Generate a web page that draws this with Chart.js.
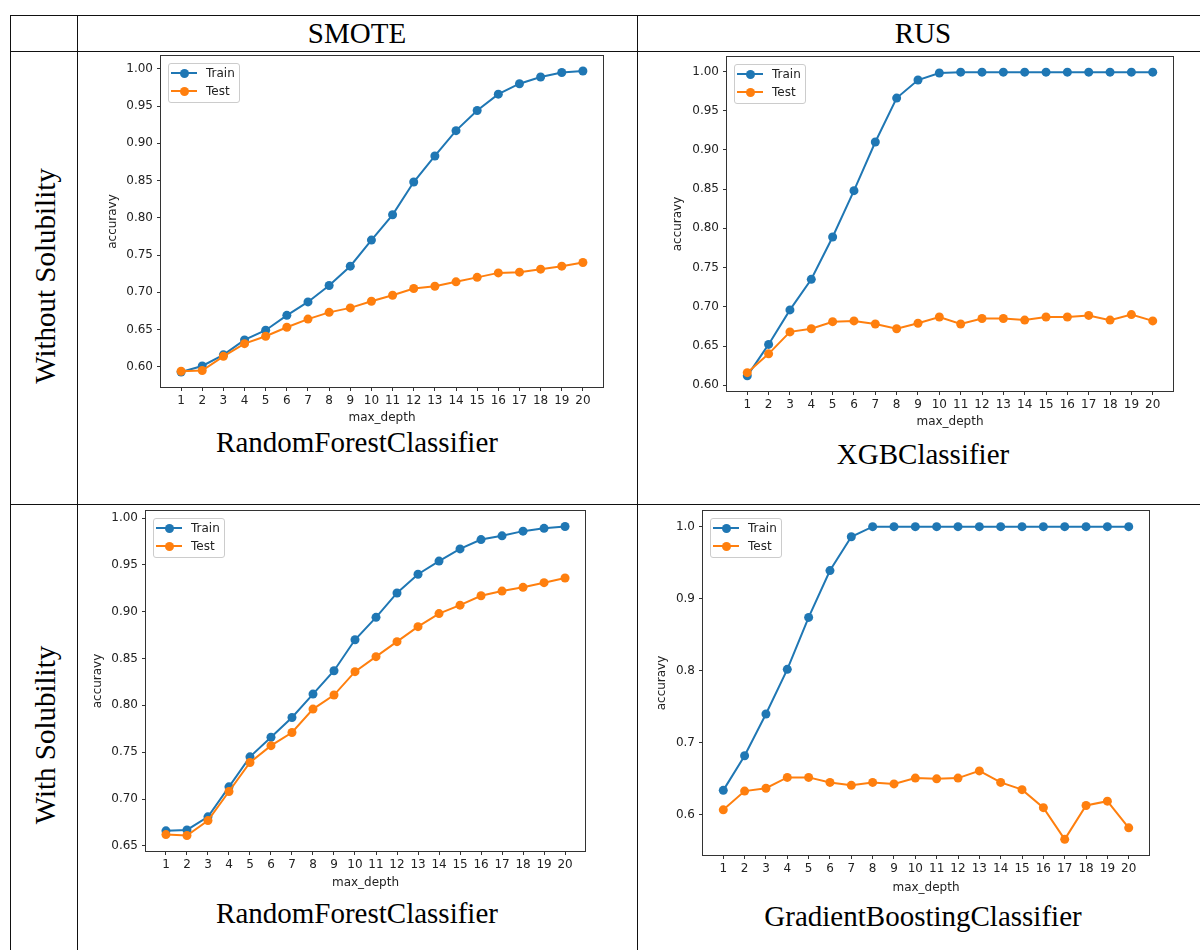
<!DOCTYPE html>
<html>
<head>
<meta charset="utf-8">
<script src="https://cdn.jsdelivr.net/npm/chart.js@4.4.1/dist/chart.umd.min.js"></script>
<style>
  body { margin: 0; width: 1200px; height: 950px; overflow: hidden; position: relative; background: #fff; font-family: "Liberation Serif", "Times New Roman", serif; }
  .hl, .vl { position: absolute; background: #111; }
  .hl { height: 1px; left: 10px; width: 1200px; }
  .vl { width: 1px; top: 15px; height: 940px; }
  .txt { position: absolute; font-size: 29px; line-height: 29px; white-space: nowrap; color: #000; transform: translateX(-50%); }
  .side { position: absolute; font-size: 29px; line-height: 29px; white-space: nowrap; color: #000; transform: translate(-50%, -50%) rotate(-90deg); }
  .panel { position: absolute; }
  .panel canvas { display: block; }
  .legend { position: absolute; border: 1px solid #ccc; border-radius: 3px; background: rgba(255,255,255,0.85); padding: 0 4px 2px 2px; font: 12px "DejaVu Sans", sans-serif; color: #222; }
  .legend .item { height: 18px; line-height: 18px; display: flex; align-items: center; white-space: nowrap; }
  .legend .icon { position: relative; width: 26px; height: 2px; background: var(--c); margin-right: 9px; }
  .legend .icon::after { content: ""; position: absolute; left: 8.5px; top: -3.5px; width: 9px; height: 9px; border-radius: 50%; background: var(--c); }
</style>
</head>
<body>
<div class="hl" style="top:15px"></div>
<div class="hl" style="top:51px"></div>
<div class="hl" style="top:504px"></div>
<div class="vl" style="left:10px"></div>
<div class="vl" style="left:77px"></div>
<div class="vl" style="left:637px"></div>

<div class="txt" style="left:357px;top:19px">SMOTE</div>
<div class="txt" style="left:923px;top:19px">RUS</div>
<div class="side" style="left:45px;top:276px">Without Solubility</div>
<div class="side" style="left:45px;top:735px">With Solubility</div>

<div class="panel" id="p1"><canvas></canvas><div class="legend"></div></div>
<div class="panel" id="p2"><canvas></canvas><div class="legend"></div></div>
<div class="panel" id="p3"><canvas></canvas><div class="legend"></div></div>
<div class="panel" id="p4"><canvas></canvas><div class="legend"></div></div>

<div class="txt" style="left:357px;top:428px">RandomForestClassifier</div>
<div class="txt" style="left:923px;top:440px">XGBClassifier</div>
<div class="txt" style="left:357px;top:899px">RandomForestClassifier</div>
<div class="txt" style="left:923px;top:902px">GradientBoostingClassifier</div>

<script>
const depth = [1, 2, 3, 4, 5, 6, 7, 8, 9, 10, 11, 12, 13, 14, 15, 16, 17, 18, 19, 20];

// SMOTE, without solubility (RandomForest)
const rfSmoteTrain = [0.593, 0.601, 0.616, 0.636, 0.649, 0.669, 0.687, 0.709, 0.735, 0.770, 0.804, 0.848, 0.883, 0.917, 0.944, 0.966, 0.980, 0.989, 0.995, 0.997];
const rfSmoteTest = [0.594, 0.595, 0.614, 0.631, 0.641, 0.653, 0.664, 0.673, 0.679, 0.688, 0.696, 0.705, 0.708, 0.714, 0.720, 0.726, 0.727, 0.731, 0.735, 0.740];

// RUS, without solubility (XGB)
const xgbRusTrain = [0.612, 0.652, 0.696, 0.735, 0.789, 0.848, 0.910, 0.966, 0.989, 0.998, 0.999, 0.999, 0.999, 0.999, 0.999, 0.999, 0.999, 0.999, 0.999, 0.999];
const xgbRusTest = [0.616, 0.640, 0.668, 0.672, 0.681, 0.682, 0.678, 0.672, 0.679, 0.687, 0.678, 0.685, 0.685, 0.683, 0.687, 0.687, 0.689, 0.683, 0.690, 0.682];

// SMOTE, with solubility (RandomForest)
const rfSolTrain = [0.666, 0.667, 0.681, 0.713, 0.745, 0.766, 0.787, 0.812, 0.837, 0.870, 0.894, 0.920, 0.940, 0.954, 0.967, 0.977, 0.981, 0.986, 0.989, 0.991];
const rfSolTest = [0.662, 0.661, 0.677, 0.708, 0.739, 0.757, 0.771, 0.796, 0.811, 0.836, 0.852, 0.868, 0.884, 0.898, 0.907, 0.917, 0.922, 0.926, 0.931, 0.936];

// RUS, with solubility (GradientBoosting)
const gbSolTrain = [0.634, 0.682, 0.740, 0.802, 0.874, 0.939, 0.986, 1.0, 1.0, 1.0, 1.0, 1.0, 1.0, 1.0, 1.0, 1.0, 1.0, 1.0, 1.0, 1.0];
const gbSolTest = [0.607, 0.633, 0.637, 0.652, 0.652, 0.645, 0.641, 0.645, 0.643, 0.651, 0.650, 0.651, 0.661, 0.645, 0.635, 0.610, 0.566, 0.613, 0.619, 0.582];

const ticksFrom60 = [0.60, 0.65, 0.70, 0.75, 0.80, 0.85, 0.90, 0.95, 1.00];
const ticksFrom65 = [0.65, 0.70, 0.75, 0.80, 0.85, 0.90, 0.95, 1.00];
const ticksTenths = [0.6, 0.7, 0.8, 0.9, 1.0];

const BLUE = "#1f77b4";
const ORANGE = "#ff7f0e";
const INK = "#222";

Chart.defaults.font.family = "'DejaVu Sans', sans-serif";
Chart.defaults.font.size = 12;
Chart.defaults.color = INK;

// matplotlib-style 5% margin around the data
function paddedRange(a, b) {
  const all = a.concat(b);
  const lo = Math.min(...all);
  const hi = Math.max(...all);
  const m = (hi - lo) * 0.05;
  return [lo - m, hi + m];
}

const framePlugin = {
  id: "frame",
  afterDraw(chart) {
    const { ctx, chartArea: a } = chart;
    ctx.save();
    ctx.strokeStyle = "#333";
    ctx.lineWidth = 1;
    ctx.strokeRect(Math.round(a.left) - 0.5, Math.round(a.top) - 0.5, Math.round(a.right - a.left) + 1, Math.round(a.bottom - a.top) + 1);
    ctx.restore();
  },
};

const htmlLegend = {
  id: "htmlLegend",
  afterUpdate(chart) {
    const box = chart.canvas.parentNode.querySelector(".legend");
    box.innerHTML = chart.data.datasets.map((ds) =>
      `<div class="item"><span class="icon" style="--c:${ds.borderColor}"></span>${ds.label}</div>`
    ).join("");
    box.style.left = Math.round(chart.chartArea.left + 7) + "px";
    box.style.top = Math.round(chart.chartArea.top + 7) + "px";
  },
};

function series(label, values, color, order) {
  return {
    label,
    data: depth.map((d, i) => ({ x: d, y: values[i] })),
    borderColor: color,
    backgroundColor: color,
    borderWidth: 2,
    pointRadius: 4.5,
    pointHoverRadius: 4.5,
    pointBorderWidth: 0,
    pointBackgroundColor: color,
    tension: 0,
    order,
  };
}

function drawPanel(id, train, test, yTicks, digits, box) {
  const padTop = 12;
  const padRight = 12;
  const wrap = document.getElementById(id);
  wrap.style.left = (box.left - box.yAxis) + "px";
  wrap.style.top = (box.top - padTop) + "px";
  const canvas = wrap.querySelector("canvas");
  canvas.width = box.yAxis + box.width + padRight;
  canvas.height = padTop + box.height + box.xAxis;
  const [ymin, ymax] = paddedRange(train, test);

  new Chart(canvas, {
    type: "line",
    data: { datasets: [series("Train", train, BLUE, 2), series("Test", test, ORANGE, 1)] },
    options: {
      responsive: false,
      animation: false,
      events: [],
      layout: { padding: { top: padTop, right: padRight, left: 0, bottom: 0 } },
      plugins: { legend: { display: false }, tooltip: { enabled: false } },
      scales: {
        x: {
          type: "linear",
          min: depth[0] - 0.95,
          max: depth[depth.length - 1] + 0.95,
          afterBuildTicks: (s) => { s.ticks = depth.map((v) => ({ value: v })); },
          afterFit: (s) => { s.height = box.xAxis; },
          ticks: { autoSkip: false, maxRotation: 0, padding: 3, color: INK },
          grid: { drawOnChartArea: false, tickLength: 4, color: "#333" },
          border: { display: false },
          title: { display: true, text: "max_depth", padding: 0, color: INK },
        },
        y: {
          min: ymin,
          max: ymax,
          afterBuildTicks: (s) => { s.ticks = yTicks.map((v) => ({ value: v })); },
          afterFit: (s) => { s.width = box.yAxis; },
          ticks: { padding: 4, color: INK, callback: (v) => Number(v).toFixed(digits) },
          grid: { drawOnChartArea: false, tickLength: 4, color: "#333" },
          border: { display: false },
          title: { display: true, text: "accuravy", padding: 0, color: INK },
        },
      },
    },
    plugins: [framePlugin, htmlLegend],
  });
}

drawPanel("p1", rfSmoteTrain, rfSmoteTest, ticksFrom60, 2, { left: 161, top: 56, width: 442, height: 331, yAxis: 55, xAxis: 38 });
drawPanel("p2", xgbRusTrain, xgbRusTest, ticksFrom60, 2, { left: 727, top: 57, width: 446, height: 334, yAxis: 56, xAxis: 38 });
drawPanel("p3", rfSolTrain, rfSolTest, ticksFrom65, 2, { left: 146, top: 511, width: 439, height: 340, yAxis: 55, xAxis: 39 });
drawPanel("p4", gbSolTrain, gbSolTest, ticksTenths, 1, { left: 703, top: 511, width: 446, height: 344, yAxis: 48, xAxis: 40 });
</script>
</body>
</html>
